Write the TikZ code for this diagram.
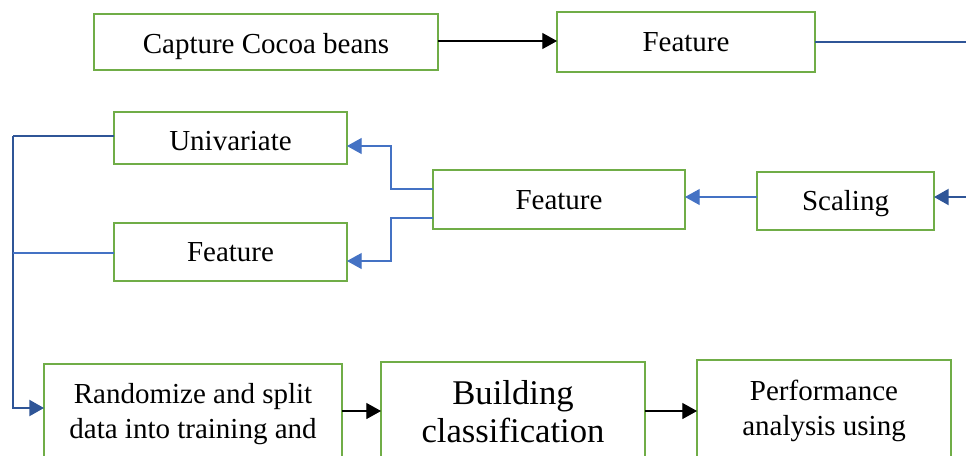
\documentclass[tikz,border=0pt]{standalone}
\usepackage{fontspec}
\setmainfont{Liberation Serif}
\usetikzlibrary{arrows.meta,calc}
\definecolor{boxgreen}{HTML}{70AD47}
\definecolor{darkblue}{HTML}{2F5597}
\definecolor{lightblue}{HTML}{4472C4}
\newcommand{\topstrut}[1]{\rule{0pt}{#1}}
\newcommand{\botstrut}[1]{\rule[-#1]{0pt}{#1}}
\begin{document}
\begin{tikzpicture}[x=0.75pt,y=-0.75pt,
  box/.style={draw=boxgreen,line width=1.6pt,inner sep=0pt,outer sep=0pt,align=center,
    anchor=north west,font=\fontsize{21.75}{26.25}\selectfont},
  blk/.style={-{Triangle[length=11pt,width=12pt]},line width=0.8pt,black},
  dblue/.style={line width=1.6pt,darkblue},
  dbluearr/.style={dblue,-{Triangle[length=11pt,width=12pt]}},
  lblue/.style={line width=0.8pt,lightblue},
  lbluearr/.style={lblue,-{Triangle[length=11pt,width=12pt]}}]
\useasboundingbox (0,0) rectangle (966,455);
\clip (0,0) rectangle (966,455);
\fill[white] (0,0) rectangle (966,455);
% boxes
\node[box,minimum width=258pt,text height=29.25pt,text depth=12.75pt] (cap) at (94,14) {Capture Cocoa beans};
\node[box,minimum width=193.5pt,text height=29.25pt,text depth=15.75pt] (f1) at (557,12) {Feature};
\node[box,minimum width=174.75pt,text height=28.5pt,text depth=10.5pt] (uni) at (114,112) {Univariate};
\node[box,minimum width=189pt,text height=29.25pt,text depth=15pt] (f2) at (433,170) {Feature};
\node[box,minimum width=132.75pt,text height=28.5pt,text depth=15pt] (sc) at (757,172) {Scaling};
\node[box,minimum width=174.75pt,text height=28.5pt,text depth=15pt] (f3) at (114,223) {Feature};
\node[box,minimum width=223.5pt] (rand) at (44,364)
  {\topstrut{29.25pt}Randomize and split\\data into training and\botstrut{22.5pt}};
\node[box,minimum width=198pt,font=\fontsize{26}{28.5}\selectfont] (build) at (381,362)
  {\topstrut{31.5pt}Building\\classification\botstrut{21pt}};
\node[box,minimum width=190.5pt,font=\fontsize{21.75}{26.25}\selectfont] (perf) at (697,360)
  {\topstrut{30pt}Performance\\analysis using\botstrut{22.5pt}};
% free ends
\coordinate (r1) at (966,42);
\coordinate (r2) at (966,197);
\coordinate (lx) at (13,136);
\coordinate (s2) at (sc.west |- r2);
% connectors
\draw[blk] (cap.east |- 0,41) -- (f1.west |- 0,41);
\draw[dblue] (f1.east |- r1) -- (r1);
\draw[dbluearr] (r2) -- (sc.east |- r2);
\draw[lbluearr] (s2) -- (s2 -| f2.east);
\draw[lbluearr] (f2.west |- 0,189) -| (391,146) -- (uni.east |- 0,146);
\draw[lbluearr] (f2.west |- 0,218) -| (391,261) -- (f3.east |- 0,261);
\draw[dblue] (uni.west |- lx) -- (lx);
\draw[dbluearr] (lx) -- (13,408) -- (rand.west |- 0,408);
\draw[lblue] (f3.west |- 0,253) -- (lx |- 0,253);
\draw[blk] (rand.east |- 0,411) -- (build.west |- 0,411);
\draw[blk] (build.east |- 0,411) -- (perf.west |- 0,411);
\end{tikzpicture}
\end{document}
